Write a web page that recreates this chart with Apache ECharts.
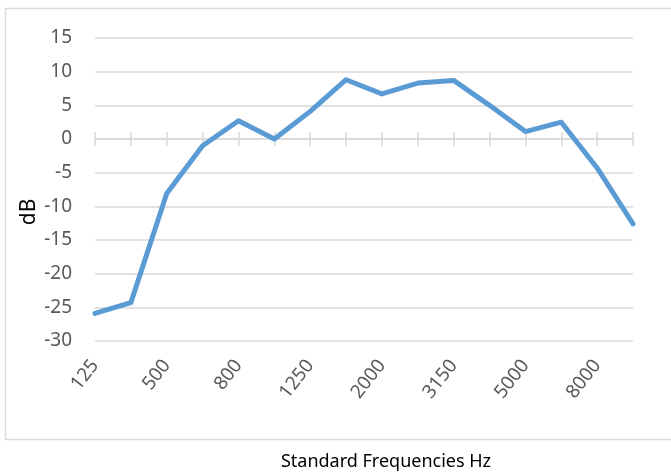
<!DOCTYPE html>
<html>
<head>
<meta charset="utf-8">
<script src="https://cdn.jsdelivr.net/npm/echarts@6/dist/echarts.min.js"></script>
<style>html,body{margin:0;padding:0;background:#fff}#c{width:671px;height:472px}</style>
</head>
<body>
<div id="c"></div>
<script>
var frequencies = ['125','250','500','630','800','1000','1250','1600','2000','2500','3150','4000','5000','6300','8000','10000'];
var dbValues = [-25.9, -24.3, -8.1, -1.0, 2.7, 0.0, 4.1, 8.8, 6.7, 8.3, 8.7, 5.0, 1.1, 2.5, -4.3, -12.6];
var yTicks = {min: -30, max: 15, step: 5};
var yLabel = 'dB';
var xTitle = 'Standard Frequencies Hz';

var FONT = '"Noto Sans", sans-serif';
var GRAY = '#d9d9d9';
var chart = echarts.init(document.getElementById('c'), null, {renderer: 'canvas'});
var tickStyle = {color: GRAY, width: 1.5};
chart.setOption({
  animation: false,
  backgroundColor: '#fff',
  grid: {left: 95, right: 38, top: 38, bottom: 131, containLabel: false},
  xAxis: [
    {type: 'category', data: frequencies, boundaryGap: false, position: 'bottom',
     axisLine: {show: false, onZero: false}, axisTick: {show: false}, splitLine: {show: false},
     axisLabel: {interval: 1, rotate: 52, margin: 21, color: '#595959', fontSize: 19, fontFamily: FONT}},
    {type: 'category', data: frequencies, boundaryGap: false, position: 'bottom',
     axisLine: {show: true, onZero: true, onZeroAxisIndex: 0, lineStyle: tickStyle},
     axisTick: {show: true, interval: 0, length: 7, lineStyle: tickStyle},
     axisLabel: {show: false}, splitLine: {show: false}},
    {type: 'category', data: frequencies, boundaryGap: false, position: 'bottom',
     axisLine: {show: false, onZero: true, onZeroAxisIndex: 1},
     axisTick: {show: true, inside: true, interval: 0, length: 7, lineStyle: tickStyle},
     axisLabel: {show: false}, splitLine: {show: false}}
  ],
  yAxis: [
    {type: 'value', min: yTicks.min, max: yTicks.max, interval: yTicks.step,
     axisLine: {show: false}, axisTick: {show: false},
     axisLabel: {margin: 23, color: '#595959', fontSize: 19, fontFamily: FONT},
     splitLine: {lineStyle: {color: GRAY, width: 1.5}}},
    {type: 'value', min: yTicks.min, max: yTicks.max, interval: yTicks.step, position: 'left',
     axisLine: {show: false}, axisTick: {show: false}, axisLabel: {show: false}, splitLine: {show: false}}
  ],
  graphic: [
    {type: 'rect', shape: {x: 5.5, y: 8.5, width: 700, height: 431}, style: {fill: 'none', stroke: GRAY, lineWidth: 1.5}, silent: true},
    {type: 'text', x: 29, y: 212, rotation: Math.PI / 2,
     style: {text: yLabel, fill: '#000', font: '21px ' + FONT, align: 'center', verticalAlign: 'middle'}},
    {type: 'text', x: 386, y: 462,
     style: {text: xTitle, fill: '#000', font: '18px ' + FONT, align: 'center', verticalAlign: 'middle'}}
  ],
  series: [{type: 'line', xAxisIndex: 0, yAxisIndex: 0, data: dbValues, showSymbol: false, symbol: 'none',
    lineStyle: {color: '#5B9BD5', width: 5, join: 'round', cap: 'round'}, z: 5}]
});
</script>
</body>
</html>
